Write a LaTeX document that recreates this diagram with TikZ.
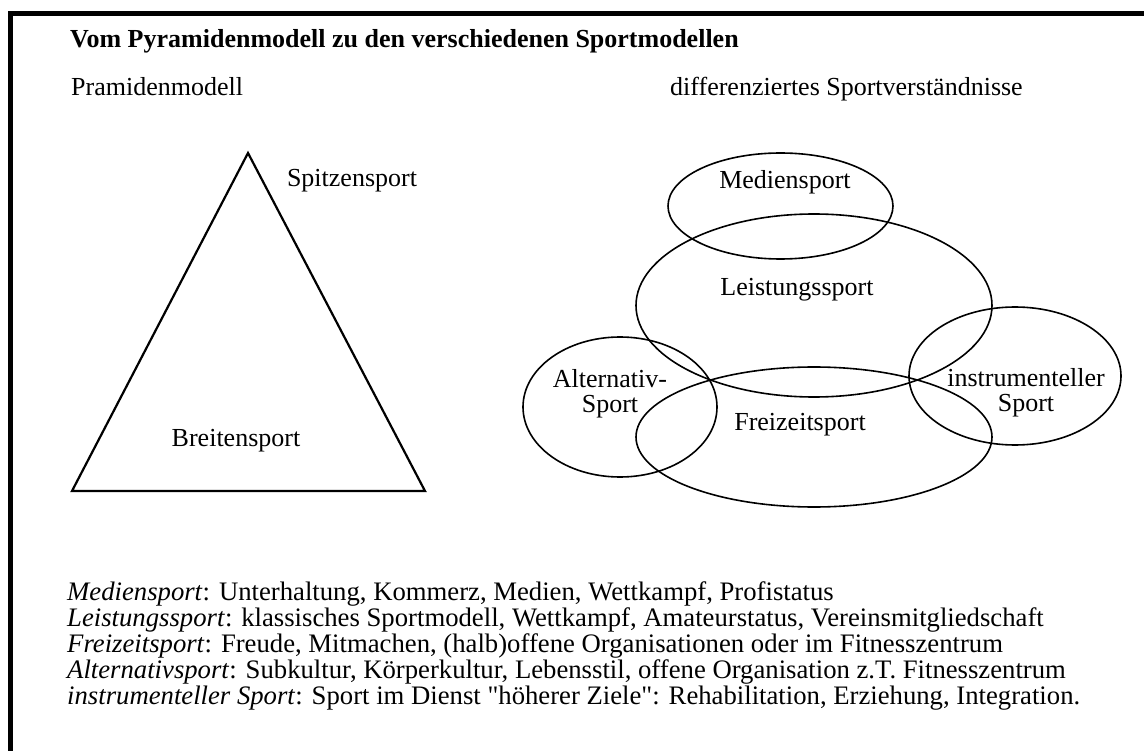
\documentclass[tikz,border=0pt]{standalone}
\usepackage{fontspec}
\setmainfont{Liberation Serif}
\usetikzlibrary{shapes.geometric}
\newcommand\mytightlines{\lineskiplimit=-100pt\relax}
\begin{document}
\begin{tikzpicture}[x=1pt,y=-1pt,
  lbl/.style={font=\fontsize{26}{25}\selectfont, inner sep=0pt, align=center},
  para/.style={font={\fontsize{26.7}{26}\selectfont\mytightlines}, inner sep=0pt, anchor=base west, align=left},
  oval/.style={ellipse, draw, line width=1.6pt, inner sep=0pt},
  pyr/.style={draw, line width=2.2pt, line join=miter}]
\useasboundingbox (0,0) rectangle (1144,751);
\fill[white] (0,0) rectangle (1144,751);
\draw[line width=5pt] (10.5,751) -- (10.5,14) -- (1144,14);

\node[lbl, anchor=base west, font=\bfseries\fontsize{26}{26}\selectfont] (title) at (70,48) {Vom Pyramidenmodell zu den verschiedenen Sportmodellen};
\node[lbl, anchor=base west] (pm) at (71,96) {Pramidenmodell};
\node[lbl, anchor=base west] (ds) at (670,96) {differenziertes Sportverständnisse};

% pyramid
\coordinate (apex) at (248,153);
\coordinate (bl) at (72,491);
\coordinate (br) at (425,491);
\draw[pyr] (apex) -- (bl) -- (br) -- cycle;
\node[lbl] (spitze) at (352,181) {Spitzensport};
\node[lbl] (breite) at (236,441) {Breitensport};

% ellipses
\node[oval, minimum width=225pt, minimum height=106pt] (med) at (780.5,206) {};
\node[oval, minimum width=356pt, minimum height=183pt] (leis) at (814,305.5) {};
\node[oval, minimum width=356pt, minimum height=140pt] (frei) at (814,437) {};
\node[oval, minimum width=212pt, minimum height=138pt] (inst) at (1015,376) {};
\node[oval, minimum width=194pt, minimum height=140pt] (alt) at (620,407) {};

\node[lbl] (tmed) at (785,182) {Mediensport};
\node[lbl] (tleis) at (797,290) {Leistungssport};
\node[lbl] (tfrei) at (800,425) {Freizeitsport};
\node[lbl] (tinst) at (1026,393) {instrumenteller\\Sport};
\node[lbl] (talt) at (610,394) {Alternativ-\\Sport};

% description
\node[para] (desc) at (67,704) {\textit{Mediensport}: Unterhaltung, Kommerz, Medien, Wettkampf, Profistatus\\
\textit{Leistungssport}: klassisches Sportmodell, Wettkampf, Amateurstatus, Vereinsmitgliedschaft\\
\textit{Freizeitsport}: Freude, Mitmachen, (halb)offene Organisationen oder im Fitnesszentrum\\
\textit{Alternativsport}: Subkultur, Körperkultur, Lebensstil, offene Organisation z.T. Fitnesszentrum\\
\textit{instrumenteller Sport}: Sport im Dienst \textquotedbl höherer Ziele\textquotedbl: Rehabilitation, Erziehung, Integration.};
\end{tikzpicture}
\end{document}
